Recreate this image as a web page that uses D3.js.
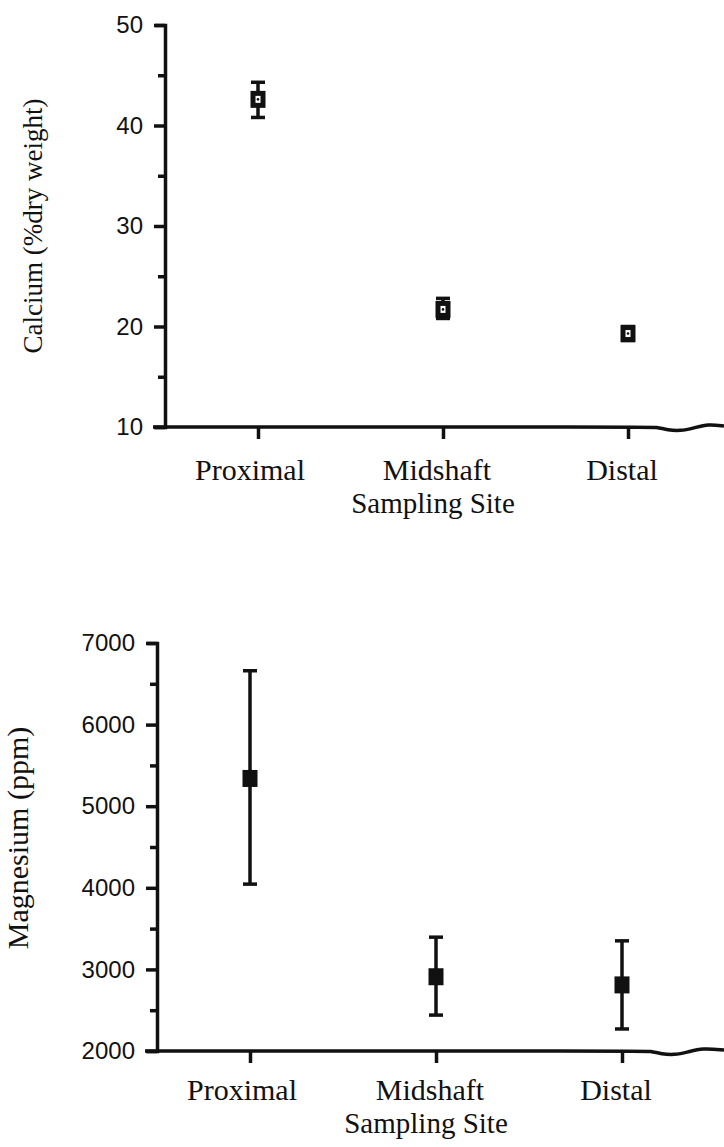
<!DOCTYPE html>
<html>
<head>
<meta charset="utf-8">
<script src="https://cdn.jsdelivr.net/npm/d3@7"></script>
<style>
  body { margin: 0; background: #fff; }
  svg { display: block; }
  .cat-label, .axis-title { font-family: "Liberation Serif", "Times New Roman", serif; fill: #111; }
</style>
</head>
<body>
<svg id="chart" width="724" height="1147"></svg>
<script>
const sites = ['Proximal', 'Midshaft', 'Distal'];

// Calcium (% dry weight)
const caMean = [42.6, 21.7, 19.3];
const caLow = [40.8, 20.8, 18.6];
const caHigh = [44.3, 22.8, 20.0];
const caTicks = [10, 20, 30, 40, 50];

// Magnesium (ppm)
const mgMean = [5340, 2910, 2810];
const mgLow = [4045, 2440, 2270];
const mgHigh = [6660, 3395, 3350];
const mgTicks = [2000, 3000, 4000, 5000, 6000, 7000];

const xTitle = 'Sampling Site';

const svg = d3.select('#chart');


function drawPanel(g, opts) {
  const x = d3.scalePoint().domain(sites).range(opts.xRange);
  const y = d3.scaleLinear().domain(opts.domain).range(opts.yRange);
  const axisY = opts.yRange[0];

  // y axis with minor ticks every half step
  const step = opts.ticks[1] - opts.ticks[0];
  const allTicks = d3.range(opts.domain[0], opts.domain[1] + step / 4, step / 2);
  const yAxis = d3.axisLeft(y)
    .tickValues(allTicks)
    .tickSizeOuter(0)
    .tickSize(10)
    .tickPadding(12)
    .tickFormat(d => opts.ticks.includes(d) ? d : '');
  const ya = g.append('g')
      .attr('transform', `translate(${opts.axisX},0)`)
      .call(yAxis);
  ya.select('.domain').attr('stroke', '#111').attr('stroke-width', 3.5);
  ya.selectAll('.tick line')
      .attr('stroke', '#111')
      .attr('stroke-width', 3.5)
      .attr('x2', d => opts.ticks.includes(d) ? -11 : -7);
  ya.selectAll('.tick text')
      .style('font-family', '"Liberation Sans", Arial, sans-serif')
      .style('font-size', '24px')
      .style('fill', '#111');

  // x axis line, straight then a little hand-drawn wave at the end
  const end = opts.xRange[1];
  const wave = [
    [opts.axisX - 12, axisY], [end + 20, axisY], [end + 28, axisY],
    [end + 40, axisY + 3], [end + 52, axisY + 4], [end + 66, axisY + 1],
    [end + 80, axisY - 3], [724, axisY - 1]
  ];
  g.append('path')
      .attr('d', d3.line().curve(d3.curveBasis)(wave))
      .attr('fill', 'none')
      .attr('stroke', '#111')
      .attr('stroke-width', 3.5);

  const xAxis = d3.axisBottom(x).tickSize(12).tickSizeOuter(0).tickFormat('');
  const xa = g.append('g')
      .attr('transform', `translate(0,${axisY})`)
      .call(xAxis);
  xa.select('.domain').remove();
  xa.selectAll('.tick line').attr('stroke', '#111').attr('stroke-width', 3.5);

  g.selectAll('.cat-label')
    .data(sites)
    .join('text')
      .attr('class', 'cat-label')
      .attr('x', (d, i) => x(d) + (i === 0 ? -8 : -6))
      .attr('y', axisY + opts.labelDy)
      .attr('text-anchor', 'middle')
      .attr('font-size', 30)
      .text(d => d);
  g.append('text')
      .attr('class', 'cat-label')
      .attr('x', x(sites[1]) - 10)
      .attr('y', axisY + opts.labelDy + 33)
      .attr('text-anchor', 'middle')
      .attr('font-size', 29)
      .text(xTitle);

  g.append('text')
      .attr('class', 'axis-title')
      .attr('transform', `translate(${opts.titleX},${opts.titleY}) rotate(-90)`)
      .attr('text-anchor', 'middle')
      .attr('font-size', opts.titleSize)
      .text(opts.title);

  // error bars
  const bars = g.selectAll('.err')
    .data(sites.map((s, i) => ({s, mean: opts.mean[i], lo: opts.low[i], hi: opts.high[i]})))
    .join('g')
      .attr('class', 'err')
      .attr('transform', d => `translate(${x(d.s)},0)`);
  bars.append('line')
      .attr('y1', d => y(d.lo))
      .attr('y2', d => y(d.hi))
      .attr('stroke', '#111')
      .attr('stroke-width', 3.5);
  bars.selectAll('.cap')
    .data(d => [d.lo, d.hi])
    .join('line')
      .attr('class', 'cap')
      .attr('x1', -7).attr('x2', 7)
      .attr('y1', v => y(v)).attr('y2', v => y(v))
      .attr('stroke', '#111')
      .attr('stroke-width', 3.5);
  return {x, y, bars};
}


const ca = drawPanel(svg.append('g'), {
  domain: [10, 50], yRange: [427, 25], xRange: [258, 628], axisX: 165,
  ticks: caTicks, mean: caMean, low: caLow, high: caHigh, labelDy: 53,
  title: 'Calcium (%dry weight)', titleX: 42, titleY: 226, titleSize: 27
});
// open squares with a dot in the middle
ca.bars.append('rect')
    .attr('x', -5).attr('y', d => ca.y(d.mean) - 6)
    .attr('width', 10).attr('height', 12)
    .attr('fill', '#fff')
    .attr('stroke', '#111')
    .attr('stroke-width', 5);
ca.bars.append('circle')
    .attr('cy', d => ca.y(d.mean))
    .attr('r', 1.3)
    .attr('fill', '#111');

const mg = drawPanel(svg.append('g'), {
  domain: [2000, 7000], yRange: [1051, 643], xRange: [250, 622], axisX: 157,
  ticks: mgTicks, mean: mgMean, low: mgLow, high: mgHigh, labelDy: 49,
  title: 'Magnesium (ppm)', titleX: 28, titleY: 838, titleSize: 30
});
// filled squares
mg.bars.append('rect')
    .attr('x', -7.5).attr('y', d => mg.y(d.mean) - 8.5)
    .attr('width', 15).attr('height', 17)
    .attr('fill', '#111');
</script>
</body>
</html>
